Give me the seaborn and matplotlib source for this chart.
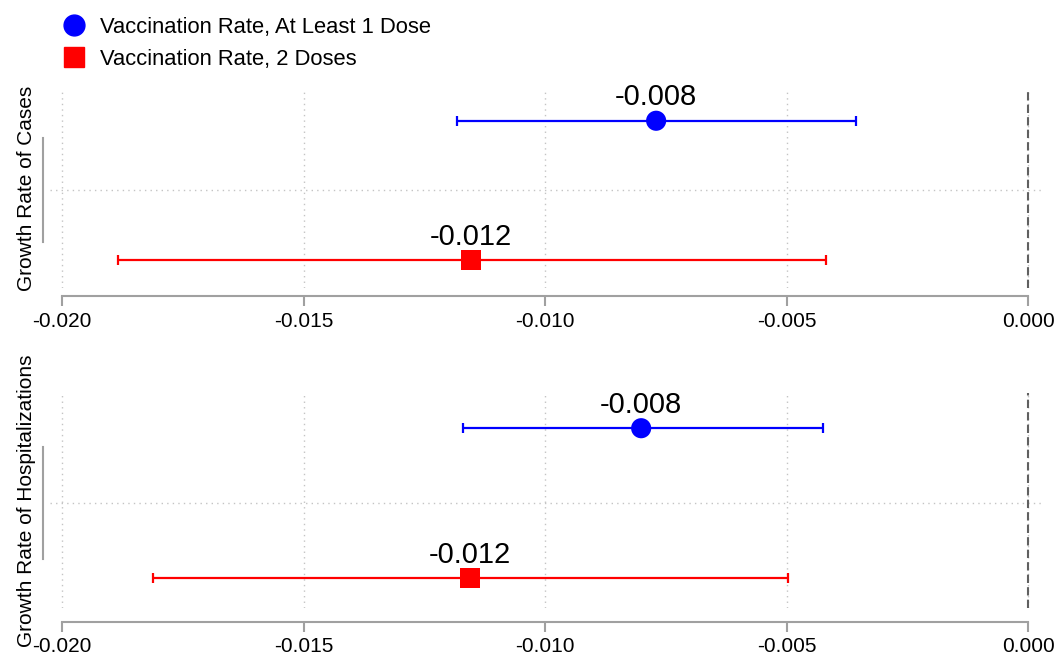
import numpy as np
import pandas as pd
import matplotlib
matplotlib.use("Agg")
import matplotlib.pyplot as plt
from matplotlib.lines import Line2D
import seaborn as sns

# datos
outcomes = ["Growth Rate of Cases", "Growth Rate of Hospitalizations"]
vaccines = ["Vaccination Rate, At Least 1 Dose", "Vaccination Rate, 2 Doses"]
est_cases = [-0.0077, -0.01153]
lo_cases = [-0.01182, -0.01884]
hi_cases = [-0.00356, -0.00418]
est_hosp = [-0.00801, -0.01155]
lo_hosp = [-0.0117, -0.01812]
hi_hosp = [-0.00424, -0.00497]
x_ticks = [-0.020, -0.015, -0.010, -0.005, 0.000]

colors = {vaccines[0]: "#0000FF", vaccines[1]: "#FF0000"}
markers = {vaccines[0]: "o", vaccines[1]: "s"}
offset = {vaccines[0]: 1, vaccines[1]: -1}

rows = []
for outcome, est, lo, hi in zip(outcomes, [est_cases, est_hosp], [lo_cases, lo_hosp], [hi_cases, hi_hosp]):
    for v, e, l, h in zip(vaccines, est, lo, hi):
        rows.append({"outcome": outcome, "vaccine": v, "est": e, "lo": l, "hi": h, "pos": offset[v]})
df = pd.DataFrame(rows)

sns.set_style("white")
plt.rcParams["font.family"] = ["Liberation Sans", "DejaVu Sans"]
plt.rcParams["text.color"] = "black"
plt.rcParams["axes.labelcolor"] = "black"

W, H = 1059, 656
fig = plt.figure(figsize=(W / 100, H / 100), dpi=100)

# cajas de ejes en pixeles: izquierda, arriba, derecha, abajo, desplazamiento eje x
boxes = [(50, 88, 1043, 288, 6), (50, 393, 1043, 608, 10)]
GRID = "#c4c4c4"
AXC = "#a0a0a0"

for (l, t, r, b, out), outcome in zip(boxes, outcomes):
    ax = fig.add_axes([l / W, 1 - b / H, (r - l) / W, (b - t) / H])
    sub = df[df["outcome"] == outcome]

    for _, row in sub.iterrows():
        ax.errorbar(row["est"], row["pos"],
                    xerr=[[row["est"] - row["lo"]], [row["hi"] - row["est"]]],
                    fmt="none", ecolor=colors[row["vaccine"]], elinewidth=1.6,
                    capsize=3.6, capthick=1.6, zorder=2)
    sns.scatterplot(data=sub, x="est", y="pos", hue="vaccine", style="vaccine",
                    palette=colors, markers=markers, s=210, edgecolor="none",
                    legend=False, ax=ax, zorder=3)
    for _, row in sub.iterrows():
        ax.annotate(f"{row['est']:.3f}", (row["est"], row["pos"]), xytext=(0, 11),
                    textcoords="offset points", ha="center", va="baseline", fontsize=21)

    ax.axvline(0, color="#606060", ls=(0, (4, 2)), lw=1.5, zorder=1)

    ax.set_xlim(-0.02025, 0.00031)
    ax.set_ylim(-1.4, 1.47)
    ax.set_xticks(x_ticks)
    ax.set_xticklabels([f"{v:.3f}" for v in x_ticks])
    ax.set_yticks([0])
    ax.set_yticklabels([])
    ax.grid(True, ls=(0, (1, 3)), color=GRID, lw=1)
    ax.set_axisbelow(True)

    for s in ["top", "right"]:
        ax.spines[s].set_visible(False)
    ax.spines["bottom"].set_position(("outward", out))
    ax.spines["bottom"].set_bounds(-0.02, 0.0)
    ax.spines["left"].set_position(("outward", 5))
    ax.spines["left"].set_bounds(-0.74, 0.75)
    for s in ["bottom", "left"]:
        ax.spines[s].set_color(AXC)
        ax.spines[s].set_linewidth(1.5)

    ax.tick_params(axis="x", direction="out", length=7, width=1.5, color=AXC,
                   labelsize=15, labelcolor="black", pad=4, bottom=True)
    ax.tick_params(axis="y", length=0, pad=0)
    ax.set_xlabel("")
    ax.set_ylabel(outcome, fontsize=15, labelpad=5)

handles = [Line2D([], [], ls="none", marker=markers[v], color=colors[v], markersize=15)
           for v in vaccines]
fig.legend(handles, vaccines, loc="upper left", bbox_to_anchor=(63 / W, 1 - 17 / H),
           frameon=False, fontsize=15.8, borderaxespad=0, borderpad=0,
           handlelength=1.0, handletextpad=0.68, labelspacing=0.5)

fig.savefig("out.png", dpi=100)
